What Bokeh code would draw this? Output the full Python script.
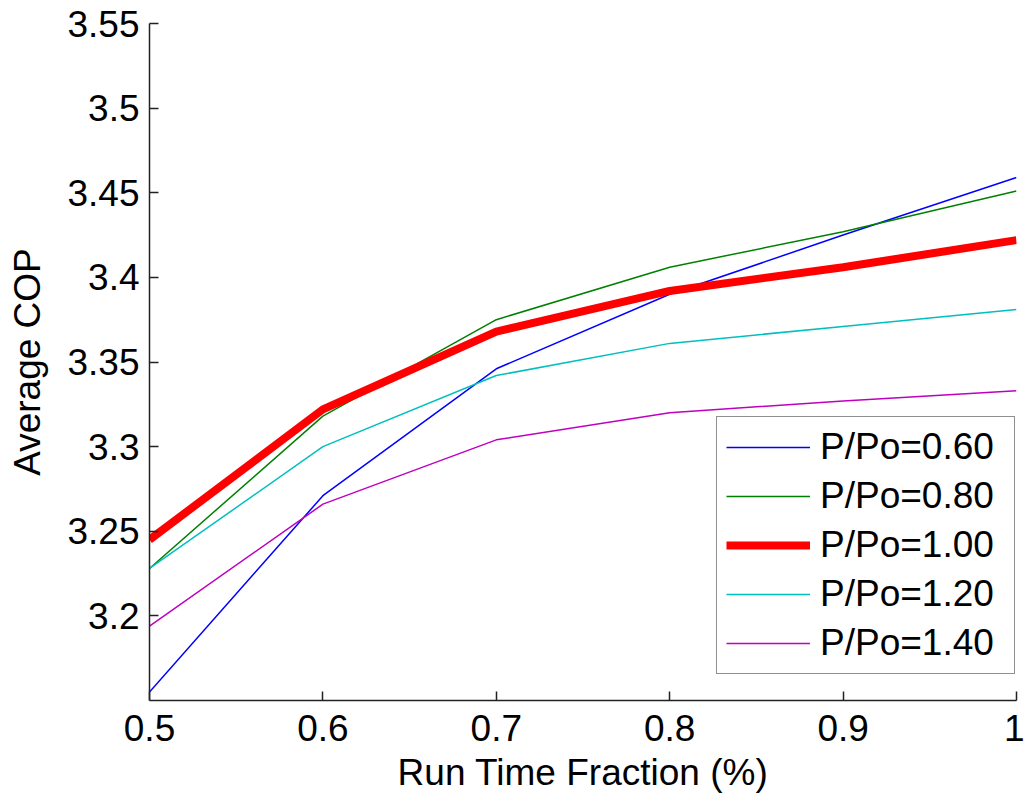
from bokeh.plotting import figure
from bokeh.models import FixedTicker, CustomJSTickFormatter, Range1d, Legend, LegendItem
from bokeh.embed import file_html
from bokeh.resources import INLINE

x = [0.5, 0.6, 0.7, 0.8, 0.9, 1.0]
cop_060 = [3.155, 3.271, 3.346, 3.390, 3.425, 3.459]
cop_080 = [3.228, 3.318, 3.375, 3.406, 3.427, 3.451]
cop_100 = [3.245, 3.322, 3.368, 3.392, 3.406, 3.422]
cop_120 = [3.228, 3.300, 3.342, 3.361, 3.371, 3.381]
cop_140 = [3.194, 3.266, 3.304, 3.320, 3.327, 3.333]
labels = ["P/Po=0.60", "P/Po=0.80", "P/Po=1.00", "P/Po=1.20", "P/Po=1.40"]
x_ticks = [0.5, 0.6, 0.7, 0.8, 0.9, 1.0]
y_ticks = [3.2, 3.25, 3.3, 3.35, 3.4, 3.45, 3.5, 3.55]

FONT = "Liberation Sans"
FS = "37px"

p = figure(width=1024, height=797, output_backend="svg", toolbar_location=None,
           x_range=Range1d(0.5, 1.0), y_range=Range1d(3.15, 3.55),
           min_border_left=149, min_border_right=8, min_border_top=23, min_border_bottom=97)
p.outline_line_color = None
p.grid.visible = False
p.background_fill_color = "white"
p.border_fill_color = "white"

series = [cop_060, cop_080, cop_100, cop_120, cop_140]
colors = ["#0000ff", "#008000", "#ff0000", "#00bfbf", "#bf00bf"]
widths = [1.5, 1.5, 8, 1.5, 1.5]
items = []
for s, c, w, lab in zip(series, colors, widths, labels):
    r = p.line(x, s, line_color=c, line_width=w)
    items.append(LegendItem(label=lab, renderers=[r]))

fmt = CustomJSTickFormatter(code="return tick.toFixed(2).replace(/0+$/,'').replace(/\\.$/,'');")
for ax, ticks in ((p.xaxis[0], x_ticks), (p.yaxis[0], y_ticks)):
    ax.ticker = FixedTicker(ticks=ticks)
    ax.formatter = fmt
    ax.major_tick_in = 9
    ax.major_tick_out = 0
    ax.minor_tick_in = 0
    ax.minor_tick_out = 0
    ax.axis_line_color = "#222222"
    ax.axis_line_width = 1.5
    ax.major_tick_line_color = "#222222"
    ax.major_tick_line_width = 1.5
    ax.major_label_text_font = FONT
    ax.major_label_text_font_size = FS
    ax.major_label_text_color = "black"
    ax.axis_label_text_font = FONT
    ax.axis_label_text_font_size = FS
    ax.axis_label_text_font_style = "normal"
    ax.axis_label_text_color = "black"

p.xaxis.axis_label = "Run Time Fraction (%)"
p.yaxis.axis_label = "Average COP"
p.xaxis.major_label_standoff = 14
p.yaxis.major_label_standoff = 10
p.xaxis.axis_label_standoff = 8
p.yaxis.axis_label_standoff = 16

legend = Legend(items=items, location=(567, 26), orientation="vertical",
                label_text_font=FONT, label_text_font_size=FS, label_text_color="black",
                glyph_width=84, glyph_height=40, label_height=40, label_width=185,
                label_standoff=10, spacing=7, padding=9, margin=0,
                border_line_color="#222222", border_line_width=1.5,
                background_fill_alpha=1.0)
p.add_layout(legend, "center")

open("out.html", "w").write(file_html(p, INLINE))
